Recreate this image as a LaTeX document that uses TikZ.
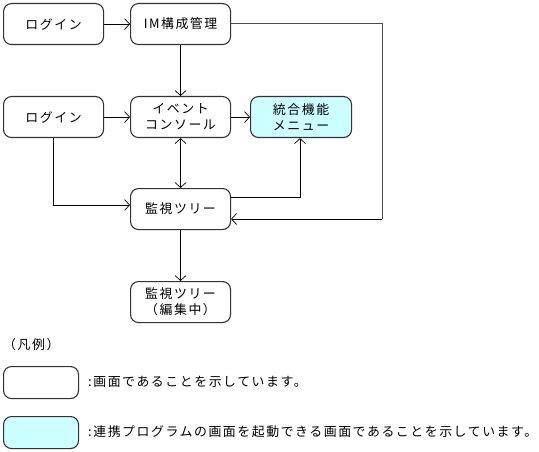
\documentclass[tikz,border=0pt]{standalone}
\usepackage{fontspec}
\setmainfont{Noto Sans CJK JP}[LetterSpace=12]
\usetikzlibrary{arrows.meta}
\definecolor{lcyan}{HTML}{CCFFFF}
\begin{document}
\begin{tikzpicture}[x=1pt,y=-1pt,
  scr/.style={draw=black!80,line width=1.1pt,rounded corners=8pt,minimum width=100pt,minimum height=41pt,inner sep=0pt,align=center,font=\fontsize{12.9}{16}\selectfont,anchor=north west},
  cyanscr/.style={scr,fill=lcyan},
  conn/.style={line width=0.8pt,-{Straight Barb[length=5pt,width=11pt,line width=0.7pt]}},
  txt/.style={font=\fontsize{12.9}{16}\selectfont,anchor=west,inner sep=0pt}]
\useasboundingbox (0,0) rectangle (539,452);
\node[scr] (l1) at (3,3) {ログイン};
\node[scr] (im) at (130,3) {IM構成管理};
\node[scr] (l2) at (3,96) {ログイン};
\node[scr] (ev) at (130,96) {イベント\\コンソール};
\node[cyanscr,minimum width=101pt] (menu) at (250,96) {統合機能\\メニュー};
\node[scr] (tree) at (130,188) {監視ツリー};
\node[scr] (edit) at (130,281) {監視ツリー\\（編集中）};
\coordinate (imr) at (382,23.5);
\coordinate (rb) at (382,219);
\draw[conn] (l1) -- (im);
\draw[conn] (im) -- (ev);
\draw[conn] (l2) -- (ev);
\draw[conn] (ev) -- (menu);
\draw[conn,{Straight Barb[length=5pt,width=11pt,line width=0.7pt]}-{Straight Barb[length=5pt,width=11pt,line width=0.7pt]}] (ev) -- (tree);
\draw[conn] (l2.south) |- (tree.west |- 0,205);
\draw[conn] (tree.east |- 0,197.5) -| (menu.south -| 300,0);
\draw[line width=1pt,black!70] (im.east |- imr) -- (imr) -- (rb);
\draw[conn] (rb) -- (tree.east |- rb);
\draw[conn] (tree) -- (edit);
\node[txt] (leg) at (3,345) {（凡例）};
\node[scr,minimum width=75pt,minimum height=32pt] (lb1) at (3,366) {};
\node[txt] (lt1) at (88,382) {:画面であることを示しています。};
\node[cyanscr,minimum width=75pt,minimum height=32pt] (lb2) at (3,416) {};
\node[txt] (lt2) at (88,432) {:連携プログラムの画面を起動できる画面であることを示しています。};
\end{tikzpicture}
\end{document}
